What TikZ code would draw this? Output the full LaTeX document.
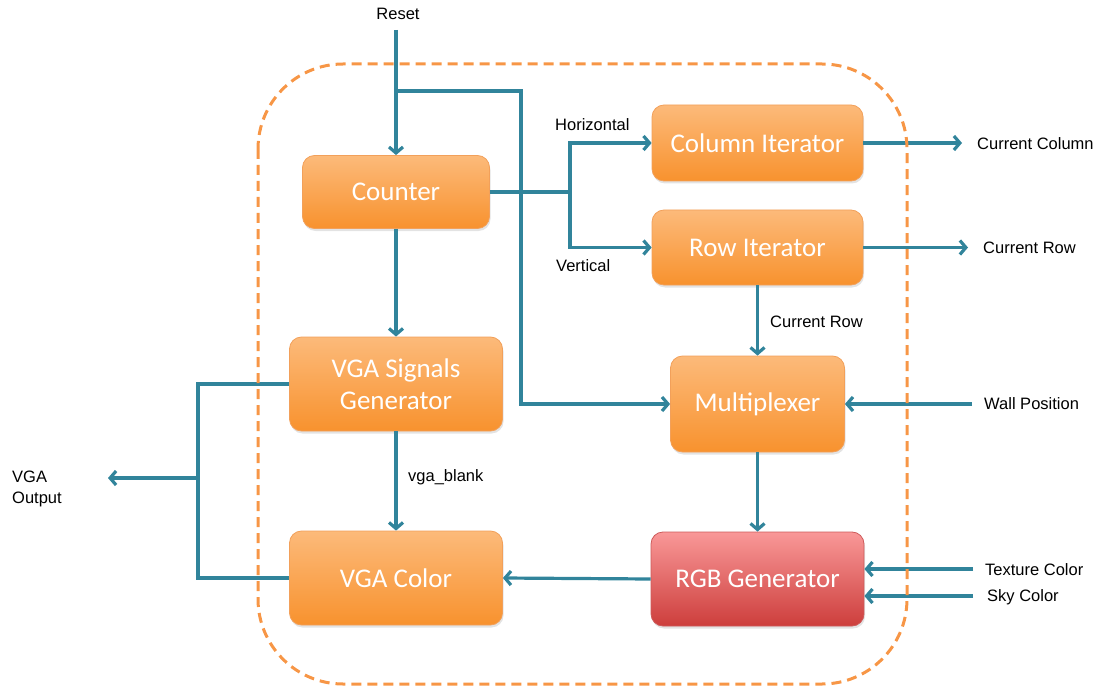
\documentclass[tikz,border=0pt]{standalone}
\usepackage{fontspec}
\setmainfont{Liberation Sans}
\newfontfamily\blockfont{Carlito}
\usetikzlibrary{arrows.meta,shadows}

\definecolor{wire}{RGB}{49,132,155}
\definecolor{frame}{RGB}{247,150,70}
\definecolor{orgtop}{RGB}{252,186,122}
\definecolor{orgbot}{RGB}{248,146,46}
\definecolor{orgline}{RGB}{242,160,90}
\definecolor{redtop}{RGB}{249,152,152}
\definecolor{redbot}{RGB}{205,62,60}
\definecolor{redline}{RGB}{205,90,90}

\tikzset{
  block/.style={rounded corners=12pt, draw=orgline, line width=0.8pt,
    top color=orgtop, bottom color=orgbot, text=white, align=center,
    font=\blockfont\fontsize{27}{32}\selectfont, inner sep=0pt,
    drop shadow={shadow xshift=1pt, shadow yshift=-2.5pt, opacity=0.22}},
  redblock/.style={block, draw=redline, top color=redtop, bottom color=redbot},
  wire/.style={draw=wire, line width=3.2pt},
  arrowwire/.style={wire, -{Straight Barb[length=6pt,width=14pt]}},
  lbl/.style={font=\fontsize{16.5}{21}\selectfont, inner sep=0pt, text=black},
}

\begin{document}
\begin{tikzpicture}[x=1pt,y=-1pt]
\useasboundingbox (0,0) rectangle (1100,687);

% processing blocks
\node[block, minimum width=187pt, minimum height=73pt] (cnt) at (396,192) {Counter};
\node[block, minimum width=213pt, minimum height=94pt] (sig) at (396,384) {VGA Signals\\Generator};
\node[block, minimum width=213pt, minimum height=94pt] (vcol) at (396,578) {VGA Color};
\node[block, minimum width=211pt, minimum height=76pt] (ci) at (757.5,143) {Column Iterator};
\node[block, minimum width=211pt, minimum height=75pt] (ri) at (757.5,247.5) {Row Iterator};
\node[block, minimum width=174pt, minimum height=96pt] (mux) at (757.5,404) {Multiplexer};
\node[redblock, minimum width=213pt, minimum height=94pt] (rgb) at (757.5,579) {RGB Generator};

% free ends and junctions
\coordinate (rst) at (396,30);
\coordinate (rjoin) at (396,91);
\coordinate (rbend) at (521,91);
\coordinate (split) at (570,192);
\coordinate (ccol) at (962,143);
\coordinate (crow) at (968,247.5);
\coordinate (wall) at (972,404);
\coordinate (tex) at (973,569);
\coordinate (sky) at (973,596);
\coordinate (busT) at (198,384);
\coordinate (busM) at (198,478);
\coordinate (busB) at (198,578);
\coordinate (vout) at (108,478);

% labels
\node[lbl] (lrst) at (398,14) {Reset};
\node[lbl, anchor=west] (lhor) at (555,125) {Horizontal};
\node[lbl, anchor=west] (lver) at (556,266) {Vertical};
\node[lbl, anchor=west] (lccol) at (977,144) {Current Column};
\node[lbl, anchor=west] (lcrow) at (983,248) {Current Row};
\node[lbl, anchor=west] (lrow2) at (770,322) {Current Row};
\node[lbl, anchor=west] (lwall) at (984,404) {Wall Position};
\node[lbl, anchor=west] (ltex) at (985,570) {Texture Color};
\node[lbl, anchor=west] (lsky) at (987,597) {Sky Color};
\node[lbl, anchor=west] (lblank) at (408,477) {vga\_blank};
\node[lbl, anchor=west, align=left] (lvga) at (12,489) {VGA\\Output};

% connectors
\draw[arrowwire] (rst) -- (cnt.north);
\draw[arrowwire] (rjoin) -- (rbend) |- (mux.west);
\draw[wire] (cnt.east) -- (split);
\draw[arrowwire] (split) |- (ci.west);
\draw[arrowwire] (split) |- (ri.west);
\draw[arrowwire] (ci.east) -- (ccol);
\draw[arrowwire] (ri.east) -- (crow);
\draw[arrowwire] (ri.south) -- (mux.north);
\draw[arrowwire] (wall) -- (mux.east);
\draw[arrowwire] (mux.south) -- (rgb.north);
\draw[arrowwire] (tex) -- (tex -| rgb.east);
\draw[arrowwire] (sky) -- (sky -| rgb.east);
\draw[arrowwire] (rgb.west) -- (vcol.east);
\draw[arrowwire] (cnt.south) -- (sig.north);
\draw[arrowwire] (sig.south) -- (vcol.north);
\draw[wire] (sig.west) -- (busT) -- (busB) -- (vcol.west);
\draw[arrowwire] (busM) -- (vout);

% system boundary
\draw[frame, line width=3pt, dash pattern=on 10pt off 6pt, rounded corners=85pt]
  (258,64) rectangle (907,684);
\end{tikzpicture}
\end{document}
